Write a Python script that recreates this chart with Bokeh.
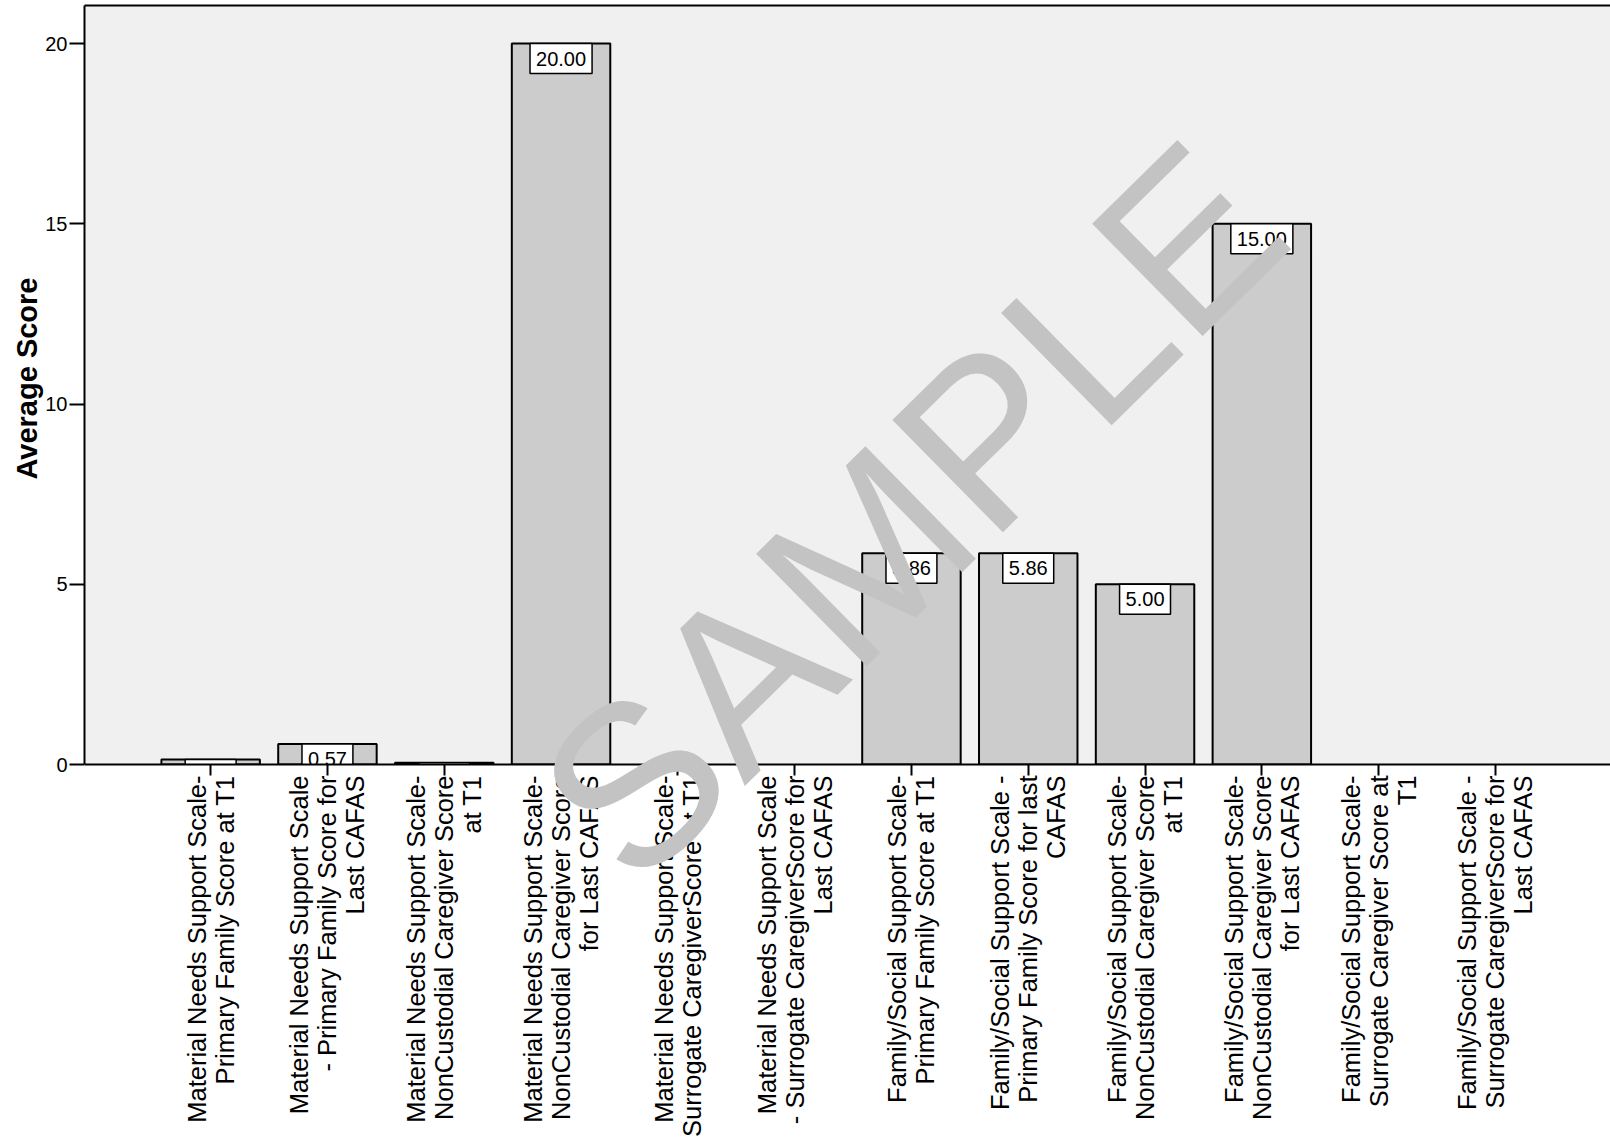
import math
from bokeh.plotting import figure
from bokeh.models import (Range1d, LinearAxis, FixedTicker, Label, ColumnDataSource,
                          BoxAnnotation, Title)
from bokeh.core.properties import value
from bokeh.embed import file_html
from bokeh.resources import INLINE

categories = [
    "Material Needs Support Scale-\nPrimary Family Score at T1",
    "Material Needs Support Scale\n- Primary Family Score for\nLast CAFAS",
    "Material Needs Support Scale-\nNonCustodial Caregiver Score\nat T1",
    "Material Needs Support Scale-\nNonCustodial Caregiver Score\nfor Last CAFAS",
    "Material Needs Support Scale-\nSurrogate CaregiverScore at T1",
    "Material Needs Support Scale\n- Surrogate CaregiverScore for\nLast CAFAS",
    "Family/Social Support Scale-\nPrimary Family Score at T1",
    "Family/Social Support Scale -\nPrimary Family Score for last\nCAFAS",
    "Family/Social Support Scale-\nNonCustodial Caregiver Score\nat T1",
    "Family/Social Support Scale-\nNonCustodial Caregiver Score\nfor Last CAFAS",
    "Family/Social Support Scale-\nSurrogate Caregiver Score at\nT1",
    "Family/Social Support Scale -\nSurrogate CaregiverScore for\nLast CAFAS",
]
scores = [0.14, 0.57, 0.05, 20.00, None, None, 5.86, 5.86, 5.00, 15.00, None, None]
y_ticks = [0, 5, 10, 15, 20]
y_title = "Average Score"
watermark = "SAMPLE"

FONT = "Liberation Sans"

xs = [i for i, v in enumerate(scores) if v is not None]
tops = [scores[i] for i in xs]
labels = ["%.2f" % scores[i] for i in xs]
src = ColumnDataSource(dict(x=xs, top=tops, label=labels))

W, H = 1610, 1139
LEFT, TOP, BASE = 84, 5, 764
PX_PER_UNIT = 36.05
x0 = -1.08
step = 116.8
x_end = x0 + (W - LEFT) / step
y_top = (BASE - TOP) / PX_PER_UNIT
y_bot = -(H - BASE) / PX_PER_UNIT

p = figure(width=W, height=H, output_backend="svg", toolbar_location=None,
           x_range=Range1d(x0, x_end), y_range=Range1d(y_bot, y_top),
           min_border_left=LEFT, min_border_right=0, min_border_top=TOP,
           min_border_bottom=0,
           background_fill_color="white", border_fill_color="white",
           outline_line_color=None)
p.xgrid.visible = False
p.ygrid.visible = False

# grey plot area above the baseline
p.add_layout(BoxAnnotation(bottom=0, fill_color="#f0f0f0", fill_alpha=1,
                           line_color=None, level="underlay"))

p.vbar(x="x", top="top", bottom=0, width=0.843, source=src,
       fill_color="#cccccc", line_color="black", line_width=2)

p.text(x="x", y="top", text="label", source=src, anchor="top_center",
       text_font=value(FONT), text_font_size="20px", text_color="black",
       background_fill_color="white", border_line_color="black", border_line_width=1.5,
       padding=dict(left=6, right=6, top=8, bottom=8))

# white mask: value boxes are cut at the baseline
p.quad(left=x0 - 1, right=x_end + 1, bottom=y_bot - 1, top=0,
       fill_color="white", line_color=None)

# x axis at baseline
xa = p.xaxis[0]
xa.fixed_location = 0
xa.ticker = FixedTicker(ticks=list(range(len(categories))))
xa.major_label_overrides = {i: c for i, c in enumerate(categories)}
xa.major_label_orientation = math.pi / 2
xa.major_label_text_font = FONT
xa.major_label_text_font_size = "25.5px"
xa.major_label_text_line_height = 1.0
xa.major_label_text_color = "black"
xa.major_label_standoff = 0
xa.major_tick_out = 11
xa.major_tick_in = 0
xa.major_tick_line_color = "black"
xa.major_tick_line_width = 2
xa.minor_tick_line_color = None
xa.axis_line_color = "black"
xa.axis_line_width = 2

# y axis
ya = p.yaxis[0]
ya.bounds = (0, y_top)
ya.ticker = FixedTicker(ticks=y_ticks)
ya.major_label_text_font = FONT
ya.major_label_text_font_size = "20px"
ya.major_label_text_color = "black"
ya.major_label_standoff = 2
ya.major_tick_out = 15
ya.major_tick_in = 0
ya.major_tick_line_width = 2
ya.major_tick_line_color = "black"
ya.minor_tick_line_color = None
ya.axis_line_color = "black"
ya.axis_line_width = 2

# y axis title, placed beside the 0..top part of the axis
p.add_layout(Title(text=y_title, align="right", offset=272,
                   text_font=FONT, text_font_style="bold", text_font_size="29px",
                   text_color="black", standoff=0), "left")

# top frame line
top_axis = LinearAxis(ticker=FixedTicker(ticks=[]), axis_line_color="black", axis_line_width=2,
                      major_tick_line_color=None, minor_tick_line_color=None)
p.add_layout(top_axis, "above")

p.add_layout(Label(x=6.0, y=7.02, text=watermark, angle=44.5, angle_units="deg",
                   text_align="center", text_baseline="middle",
                   text_font=FONT, text_font_size="229px", text_color="#c3c3c3",
                   level="overlay"))

open("out.html", "w").write(file_html(p, INLINE))
